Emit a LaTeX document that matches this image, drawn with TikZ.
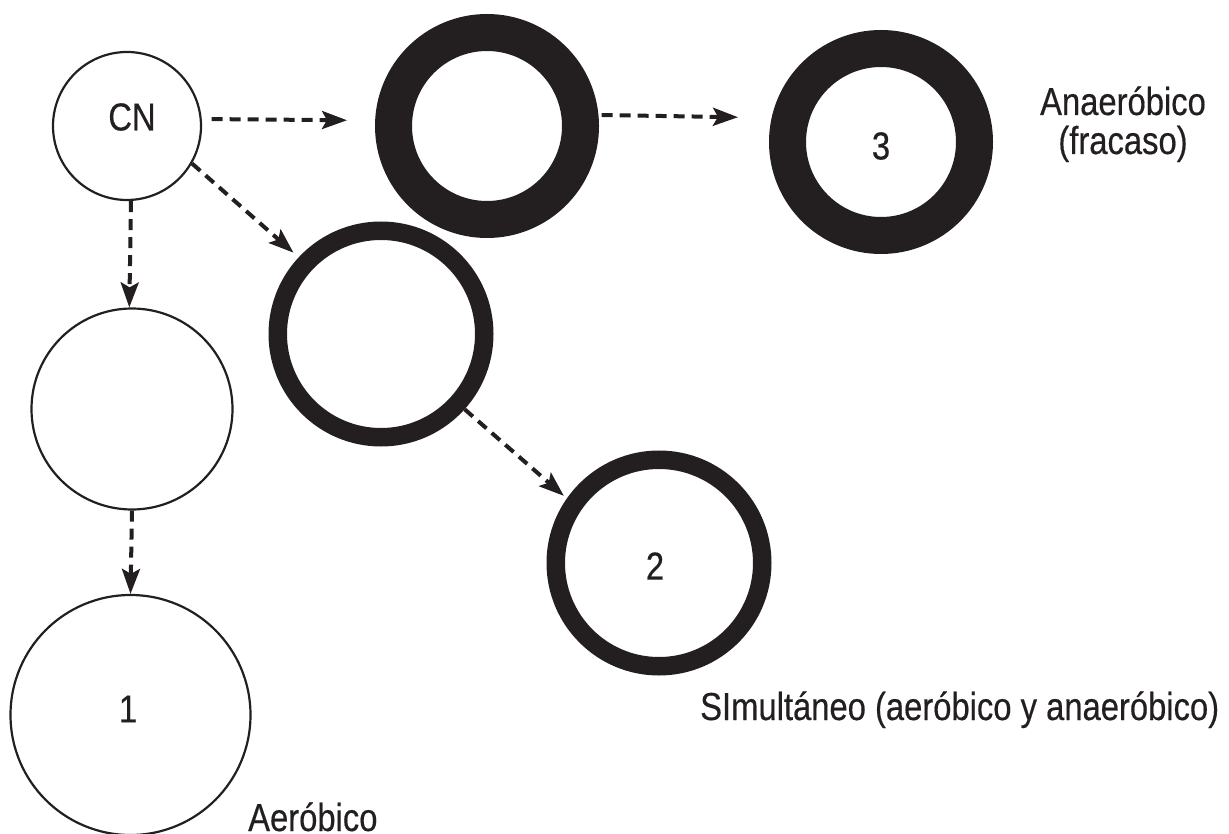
\documentclass[tikz,border=0pt]{standalone}
\usepackage{fontspec}
\setmainfont{Liberation Sans}[FakeStretch=0.84,FakeBold=0.4]
\usetikzlibrary{arrows.meta}
\definecolor{ink}{RGB}{35,31,32}
\begin{document}
\begin{tikzpicture}[x=1pt,y=-1pt,
  thin ring/.style={circle,draw=ink,line width=2.2pt,inner sep=0pt},
  thick ring/.style={circle,draw=ink,line width=37pt,inner sep=0pt,minimum size=187pt},
  mid ring/.style={circle,draw=ink,line width=18.5pt,inner sep=0pt,minimum size=206.5pt},
  lbl/.style={text=ink,font=\fontsize{39}{39}\selectfont,inner sep=0pt},
  arr/.style={draw=ink,line width=4pt,dash pattern=on 11pt off 7pt,-{Stealth[length=25pt,width=18pt,inset=5pt]}}]
\useasboundingbox (0,0) rectangle (1229,834);
% circles
\node[thin ring,minimum size=148pt] (cn) at (127,126) {};
\node[thick ring] (top) at (487,126) {};
\node[thick ring] (r3) at (881,142) {};
\node[mid ring] (mid) at (381,334) {};
\node[thin ring,minimum size=201pt] (left) at (132,409) {};
\node[mid ring] (r2) at (659,563) {};
\node[thin ring,minimum size=240pt] (c1) at (130.5,715) {};
% labels inside
\node[lbl] (cnt) at (132,117) {CN};
\node[lbl] (r3t) at (881,146) {3};
\node[lbl] (r2t) at (655,566) {2};
\node[lbl] (c1t) at (128,709) {1};
% outside labels
\node[lbl,align=center,anchor=base] (anae) at (1123,154) {Anaeróbico\\(fracaso)};
\node[lbl,anchor=base west] (simu) at (700,720) {SImultáneo (aeróbico y anaeróbico)};
\node[lbl,anchor=base west] (aer) at (248,831) {Aeróbico};
% connectors
\draw[arr,shorten <=9.5pt,shorten >=28pt] ([yshift=7pt]cn.east) -- ([yshift=5.5pt]top.west);
\draw[arr,shorten <=2.7pt,shorten >=31pt] ([yshift=11pt]top.east) -- ([yshift=24.3pt]r3.west);
\draw[arr,shorten >=7pt] (cn.-30) -- (mid.137);
\draw[arr,shorten >=4pt] (mid.-42) -- (r2.145);
\draw[arr] ([xshift=4pt]cn.south) -- ([xshift=-2.7pt]left.north);
\draw[arr] (left.south) -- (c1.north);
\end{tikzpicture}
\end{document}
